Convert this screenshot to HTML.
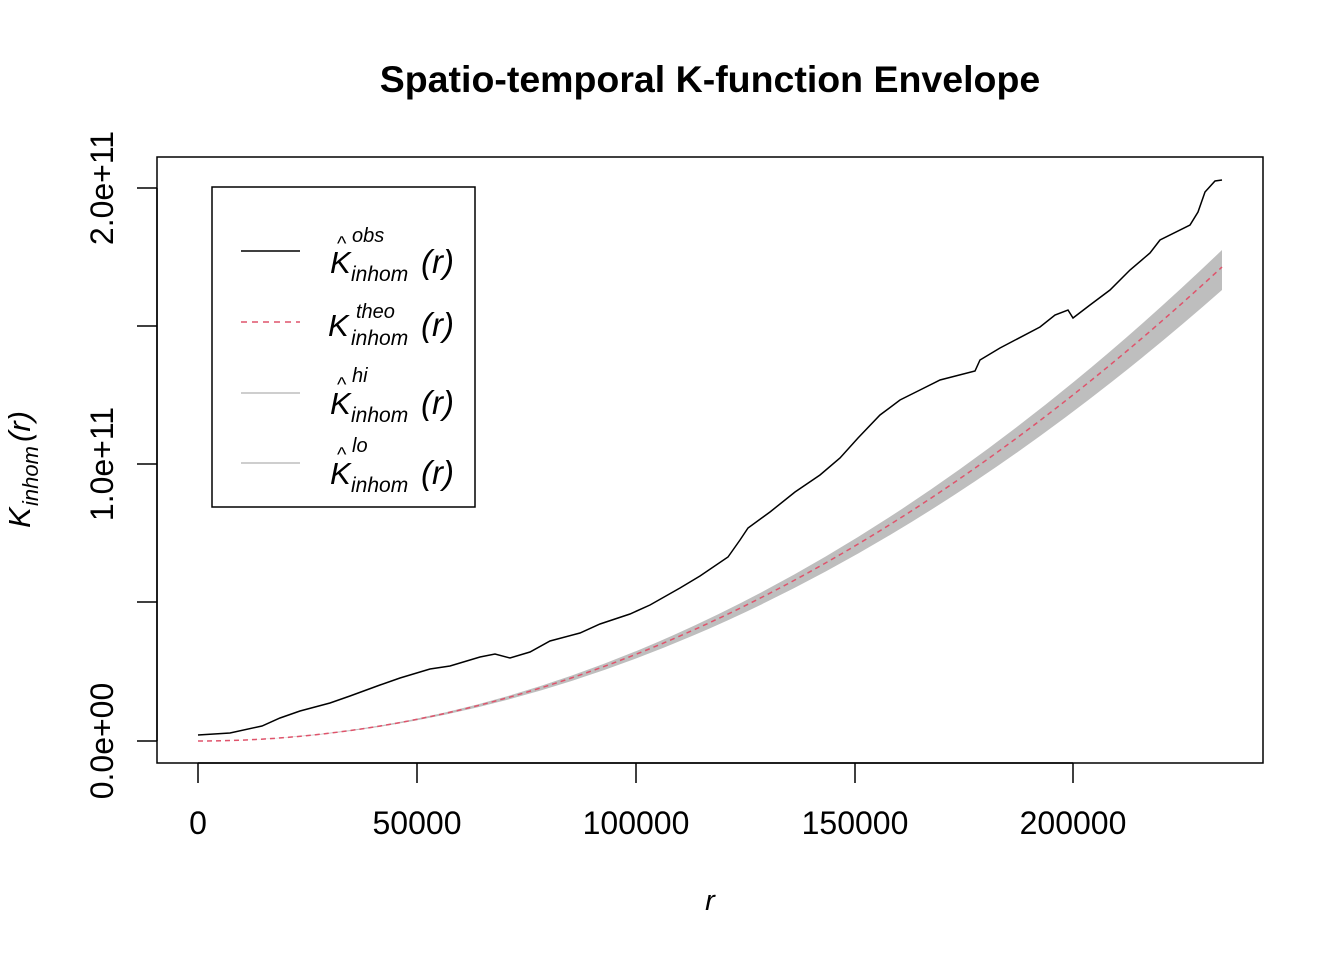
<!DOCTYPE html>
<html><head><style>body{margin:0;background:#fff}svg{display:block}text{font-family:"Liberation Sans",sans-serif}</style></head>
<body>
<svg width="1344" height="960" viewBox="0 0 1344 960" xmlns="http://www.w3.org/2000/svg">
<text x="710" y="92" font-size="37.5" font-weight="bold" text-anchor="middle">Spatio-temporal K-function Envelope</text>
<rect x="157" y="157" width="1106" height="606" fill="none" stroke="#000" stroke-width="1.5"/>
<path d="M198,741 Q710,741 1222,250 L1222,290 Q710,741 198,741 Z" fill="#bebebe"/>
<path d="M198,741 Q710,741 1222,267" fill="none" stroke="#df536b" stroke-width="1.5" stroke-dasharray="5,4"/>
<polyline fill="none" stroke="#000" stroke-width="1.5" points="198,735 230,733 262,726 280,718 300,711 330,703 350,696 380,685 400,678 430,669 450,666 480,657 495,654 510,658 530,652 550,641 580,633 600,624 630,614 650,605 680,588 700,576 728,557 740,540 748,528 770,512 795,492 820,475 840,458 858,438 880,415 900,400 920,390 940,380 975,371 980,360 1000,348 1040,327 1055,315 1068,310 1073,318 1090,305 1110,290 1130,270 1150,253 1160,240 1190,225 1198,212 1205,192 1215,181 1222,180"/>
<g stroke="#000" stroke-width="1.5">
<line x1="198" y1="763" x2="1073" y2="763"/>
<line x1="198" y1="763" x2="198" y2="783"/><line x1="417" y1="763" x2="417" y2="783"/><line x1="636" y1="763" x2="636" y2="783"/><line x1="855" y1="763" x2="855" y2="783"/><line x1="1073" y1="763" x2="1073" y2="783"/>
<line x1="157" y1="188" x2="157" y2="741"/>
<line x1="137" y1="741" x2="157" y2="741"/><line x1="137" y1="602" x2="157" y2="602"/><line x1="137" y1="464" x2="157" y2="464"/><line x1="137" y1="326" x2="157" y2="326"/><line x1="137" y1="188" x2="157" y2="188"/>
</g>
<g font-size="32" text-anchor="middle">
<text x="198" y="834">0</text><text x="417" y="834">50000</text><text x="636" y="834">100000</text><text x="855" y="834">150000</text><text x="1073" y="834">200000</text>
<text transform="translate(113,741) rotate(-90)">0.0e+00</text>
<text transform="translate(113,464) rotate(-90)">1.0e+11</text>
<text transform="translate(113,188) rotate(-90)">2.0e+11</text>
</g>
<text x="710" y="910" font-size="29" font-style="italic" text-anchor="middle">r</text>
<g transform="translate(30,460) rotate(-90)" font-style="italic">
<text x="-68" y="0" font-size="31">K</text><text x="-46" y="8" font-size="22">inhom</text><text x="18" y="0" font-size="31" font-family="Liberation Serif">(r)</text>
</g>
<rect x="212" y="187" width="263" height="320" fill="#fff" stroke="#000" stroke-width="1.5"/>
<line x1="241" y1="251" x2="300" y2="251" stroke="#000" stroke-width="1.5"/>
<line x1="241" y1="322" x2="300" y2="322" stroke="#df536b" stroke-width="1.5" stroke-dasharray="6,5"/>
<line x1="241" y1="393" x2="300" y2="393" stroke="#bebebe" stroke-width="1.5"/>
<line x1="241" y1="463" x2="300" y2="463" stroke="#bebebe" stroke-width="1.5"/>
<g font-style="italic">
<text x="330" y="273" font-size="31">K</text><text x="337" y="250" font-size="20" font-style="normal">^</text><text x="352" y="242" font-size="20">obs</text><text x="351" y="281" font-size="21">inhom</text><text x="421" y="273" font-size="33" font-family="Liberation Serif">(r)</text>
<text x="328" y="336" font-size="31">K</text><text x="356" y="318" font-size="20">theo</text><text x="351" y="345" font-size="21">inhom</text><text x="421" y="336" font-size="33" font-family="Liberation Serif">(r)</text>
<text x="330" y="414" font-size="31">K</text><text x="337" y="391" font-size="20" font-style="normal">^</text><text x="352" y="382" font-size="20">hi</text><text x="351" y="422" font-size="21">inhom</text><text x="421" y="414" font-size="33" font-family="Liberation Serif">(r)</text>
<text x="330" y="484" font-size="31">K</text><text x="337" y="461" font-size="20" font-style="normal">^</text><text x="352" y="452" font-size="20">lo</text><text x="351" y="492" font-size="21">inhom</text><text x="421" y="484" font-size="33" font-family="Liberation Serif">(r)</text>
</g>
</svg>
</body></html>
